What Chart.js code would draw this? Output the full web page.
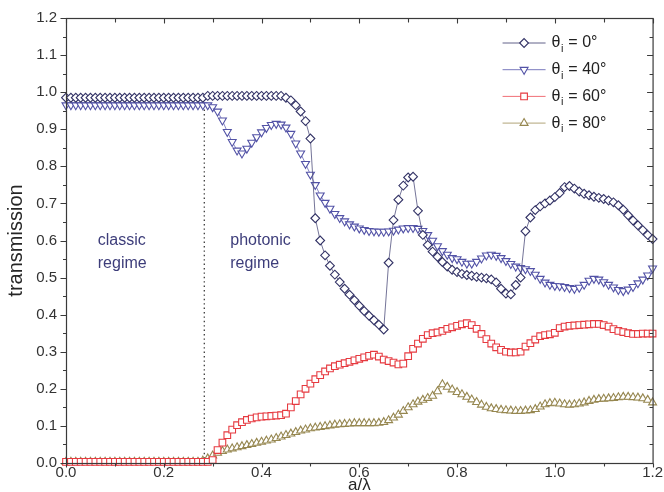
<!DOCTYPE html>
<html>
<head>
<meta charset="utf-8">
<title>transmission vs a/λ</title>
<script src="https://cdn.jsdelivr.net/npm/chart.js@4.4.0/dist/chart.umd.min.js"></script>
<style>
  html, body { margin: 0; padding: 0; background: #fff; }
  #wrap { width: 664px; height: 492px; }
</style>
</head>
<body>
<div id="wrap"><canvas id="chart" width="664" height="492"></canvas></div>
<script>
// Data (a/λ step 0.01)
const aLambda = [
  0.00, 0.01, 0.02, 0.03, 0.04, 0.05, 0.06, 0.07, 0.08, 0.09,
  0.10, 0.11, 0.12, 0.13, 0.14, 0.15, 0.16, 0.17, 0.18, 0.19,
  0.20, 0.21, 0.22, 0.23, 0.24, 0.25, 0.26, 0.27, 0.28, 0.29,
  0.30, 0.31, 0.32, 0.33, 0.34, 0.35, 0.36, 0.37, 0.38, 0.39,
  0.40, 0.41, 0.42, 0.43, 0.44, 0.45, 0.46, 0.47, 0.48, 0.49,
  0.50, 0.51, 0.52, 0.53, 0.54, 0.55, 0.56, 0.57, 0.58, 0.59,
  0.60, 0.61, 0.62, 0.63, 0.64, 0.65, 0.66, 0.67, 0.68, 0.69,
  0.70, 0.71, 0.72, 0.73, 0.74, 0.75, 0.76, 0.77, 0.78, 0.79,
  0.80, 0.81, 0.82, 0.83, 0.84, 0.85, 0.86, 0.87, 0.88, 0.89,
  0.90, 0.91, 0.92, 0.93, 0.94, 0.95, 0.96, 0.97, 0.98, 0.99,
  1.00, 1.01, 1.02, 1.03, 1.04, 1.05, 1.06, 1.07, 1.08, 1.09,
  1.10, 1.11, 1.12, 1.13, 1.14, 1.15, 1.16, 1.17, 1.18, 1.19,
  1.20
];

const theta0 = [
  0.985, 0.985, 0.985, 0.985, 0.985, 0.985, 0.985, 0.985, 0.985, 0.985,
  0.985, 0.985, 0.985, 0.985, 0.985, 0.985, 0.985, 0.985, 0.985, 0.985,
  0.985, 0.985, 0.985, 0.985, 0.985, 0.985, 0.985, 0.985, 0.985, 0.99,
  0.99, 0.99, 0.99, 0.99, 0.99, 0.99, 0.99, 0.99, 0.99, 0.99,
  0.99, 0.99, 0.99, 0.99, 0.99, 0.985, 0.978, 0.965, 0.948, 0.922,
  0.875, 0.66, 0.60, 0.56, 0.532, 0.508, 0.488, 0.47, 0.454, 0.439,
  0.424, 0.41, 0.397, 0.385, 0.373, 0.36, 0.54, 0.655, 0.71, 0.748,
  0.77, 0.772, 0.68, 0.615, 0.588, 0.57, 0.556, 0.542, 0.53, 0.521,
  0.515, 0.51, 0.507, 0.505, 0.502, 0.50, 0.498, 0.495, 0.487, 0.47,
  0.457, 0.455, 0.48, 0.50, 0.625, 0.662, 0.682, 0.692, 0.70, 0.708,
  0.717, 0.728, 0.744, 0.747, 0.74, 0.732, 0.726, 0.722, 0.718, 0.715,
  0.712, 0.708, 0.703, 0.695, 0.683, 0.668, 0.654, 0.641, 0.628, 0.615,
  0.604
];

const theta40 = [
  0.965, 0.965, 0.965, 0.965, 0.965, 0.965, 0.965, 0.965, 0.965, 0.965,
  0.965, 0.965, 0.965, 0.965, 0.965, 0.965, 0.965, 0.965, 0.965, 0.965,
  0.965, 0.965, 0.965, 0.965, 0.965, 0.965, 0.965, 0.965, 0.965, 0.965,
  0.96, 0.948, 0.924, 0.893, 0.866, 0.843, 0.835, 0.848, 0.864, 0.879,
  0.892, 0.904, 0.912, 0.915, 0.913, 0.905, 0.888, 0.862, 0.835, 0.807,
  0.778, 0.75, 0.722, 0.702, 0.686, 0.672, 0.661, 0.652, 0.644, 0.638,
  0.633, 0.629, 0.626, 0.625, 0.624, 0.624, 0.625, 0.627, 0.63, 0.633,
  0.634, 0.634, 0.632, 0.626, 0.615, 0.60, 0.585, 0.572, 0.562, 0.553,
  0.55, 0.543, 0.538, 0.538, 0.543, 0.552, 0.56, 0.562, 0.559, 0.553,
  0.545, 0.537, 0.53, 0.526, 0.523, 0.518, 0.508, 0.497, 0.487, 0.481,
  0.478, 0.477, 0.475, 0.472, 0.47, 0.473, 0.481, 0.492, 0.497, 0.495,
  0.488, 0.481, 0.474, 0.467, 0.464, 0.468, 0.475, 0.485, 0.495, 0.506,
  0.525
];

const theta60 = [
  0.003, 0.003, 0.003, 0.003, 0.003, 0.003, 0.003, 0.003, 0.003, 0.003,
  0.003, 0.003, 0.003, 0.003, 0.003, 0.003, 0.003, 0.003, 0.003, 0.003,
  0.003, 0.003, 0.003, 0.003, 0.003, 0.003, 0.003, 0.003, 0.003, 0.003,
  0.008, 0.035, 0.055, 0.075, 0.09, 0.102, 0.11, 0.116, 0.12, 0.123,
  0.125, 0.126, 0.127, 0.128, 0.129, 0.133, 0.15, 0.167, 0.185, 0.20,
  0.214, 0.226, 0.237, 0.247, 0.255, 0.261, 0.265, 0.269, 0.273, 0.277,
  0.281, 0.285, 0.289, 0.292, 0.287, 0.279, 0.275, 0.271, 0.266, 0.268,
  0.288, 0.308, 0.322, 0.335, 0.345, 0.35, 0.352, 0.356, 0.362, 0.366,
  0.37, 0.374, 0.377, 0.372, 0.362, 0.348, 0.334, 0.322, 0.312, 0.305,
  0.30, 0.298, 0.298, 0.30, 0.314, 0.323, 0.333, 0.342, 0.345, 0.347,
  0.351, 0.364, 0.368, 0.37, 0.371, 0.372, 0.373, 0.374, 0.375, 0.375,
  0.372, 0.368, 0.361, 0.356, 0.353, 0.35, 0.348, 0.348, 0.349, 0.349,
  0.349
];

const theta80 = [
  0.003, 0.003, 0.003, 0.003, 0.003, 0.003, 0.003, 0.003, 0.003, 0.003,
  0.003, 0.003, 0.003, 0.003, 0.003, 0.003, 0.003, 0.003, 0.003, 0.003,
  0.003, 0.003, 0.003, 0.003, 0.003, 0.003, 0.003, 0.003, 0.006, 0.012,
  0.02, 0.027, 0.032, 0.036, 0.039, 0.042, 0.045, 0.048, 0.051, 0.054,
  0.057, 0.06, 0.063, 0.067, 0.071, 0.075, 0.079, 0.083, 0.087, 0.09,
  0.093, 0.095, 0.097, 0.099, 0.101, 0.103, 0.104, 0.105, 0.106, 0.107,
  0.107, 0.107, 0.107, 0.107, 0.108, 0.11, 0.115, 0.122, 0.13, 0.14,
  0.15, 0.158, 0.165, 0.17, 0.175, 0.181, 0.193, 0.212, 0.205, 0.198,
  0.191, 0.185, 0.178, 0.171, 0.164, 0.157, 0.151, 0.147, 0.145, 0.143,
  0.142, 0.141, 0.14, 0.14, 0.141, 0.142, 0.145, 0.152, 0.158, 0.161,
  0.162, 0.16, 0.158, 0.157, 0.158, 0.16, 0.163, 0.167, 0.17, 0.172,
  0.173, 0.174, 0.175, 0.177, 0.178, 0.178, 0.177, 0.176, 0.174, 0.17,
  0.163
];

// incidence angles (legend) and regime boundary
const angles = [0, 40, 60, 80];
const boundaryX = [0.283, 0.283];
const boundaryY = [0, 0.965];

// Styles
const fontFamily = '"Liberation Sans", Arial, sans-serif';
const axisColor = '#3a3a3a';
const noteColor = '#3d3d7a';
const seriesStyle = [
  { marker: '#333366', line: '#50507e', pointStyle: 'rectRot', rotation: 0, radius: 4.4 },
  { marker: '#5252a6', line: '#6a6ab6', pointStyle: 'triangle', rotation: 180, radius: 4.6 },
  { marker: '#e63a40', line: '#ee6066', pointStyle: 'rect', rotation: 0, radius: 4.7 },
  { marker: '#968750', line: '#a89a6a', pointStyle: 'triangle', rotation: 0, radius: 4.6 }
];
const regionNotes = [
  { lines: ['classic', 'regime'], x: 0.065, y: 0.60 },
  { lines: ['photonic', 'regime'], x: 0.336, y: 0.60 }
];

// Build datasets
function toPoints(values) {
  return aLambda.map((x, i) => ({ x: x, y: values[i] }));
}

const seriesValues = [theta0, theta40, theta60, theta80];
const datasets = seriesValues.map((values, i) => {
  const s = seriesStyle[i];
  return {
    label: 'θi = ' + angles[i] + '°',
    data: toPoints(values),
    borderColor: s.line,
    borderWidth: 0.8,
    pointStyle: s.pointStyle,
    pointRotation: s.rotation,
    pointRadius: s.radius,
    pointBorderColor: s.marker,
    pointBorderWidth: 1.1,
    pointBackgroundColor: '#ffffff',
    tension: 0,
    clip: 8
  };
});

// dotted line between the classic and photonic regimes
datasets.push({
  label: '',
  data: boundaryX.map((x, i) => ({ x: x, y: boundaryY[i] })),
  borderColor: '#444',
  borderWidth: 1.4,
  borderDash: [1.4, 3],
  pointRadius: 0,
  legendHidden: true
});

// Frame, ticks, titles, notes and legend
const decorations = {
  id: 'decorations',
  afterDraw(chart) {
    const ctx = chart.ctx;
    const area = chart.chartArea;
    const xs = chart.scales.x;
    const ys = chart.scales.y;
    ctx.save();

    // box
    ctx.strokeStyle = axisColor;
    ctx.lineWidth = 1.2;
    ctx.strokeRect(area.left + 0.5, area.top + 0.5, area.right - area.left, area.bottom - area.top);

    // ticks x : out at the bottom, in at the top
    ctx.lineWidth = 1.1;
    xs.ticks.forEach(t => {
      const px = Math.round(xs.getPixelForValue(t.value)) + 0.5;
      const major = Math.round(t.value * 10) % 2 === 0;
      const len = major ? 4 : 3;
      ctx.beginPath();
      ctx.moveTo(px, area.bottom + 0.5);
      ctx.lineTo(px, area.bottom + 0.5 + len);
      ctx.moveTo(px, area.top + 0.5);
      ctx.lineTo(px, area.top + 0.5 + len + 1);
      ctx.stroke();
    });
    // ticks y : out on the left, in on the right
    ys.ticks.forEach(t => {
      const py = Math.round(ys.getPixelForValue(t.value)) + 0.5;
      const major = Math.round(t.value * 100) % 10 === 0;
      const len = major ? 6 : 3.5;
      ctx.beginPath();
      ctx.moveTo(area.left + 0.5, py);
      ctx.lineTo(area.left + 0.5 - len, py);
      ctx.moveTo(area.right + 0.5, py);
      ctx.lineTo(area.right + 0.5 - len, py);
      ctx.stroke();
    });

    // axis titles
    ctx.fillStyle = '#262626';
    ctx.textAlign = 'center';
    ctx.textBaseline = 'alphabetic';
    ctx.font = '17px ' + fontFamily;
    ctx.fillText('a/λ', (area.left + area.right) / 2, 490);
    ctx.textBaseline = 'middle';
    ctx.font = '20px ' + fontFamily;
    ctx.save();
    ctx.translate(16, (area.top + area.bottom) / 2);
    ctx.rotate(-Math.PI / 2);
    ctx.fillText('transmission', 0, 0);
    ctx.restore();

    // regime notes
    ctx.fillStyle = noteColor;
    ctx.textAlign = 'left';
    ctx.font = '16px ' + fontFamily;
    regionNotes.forEach(n => {
      const px = xs.getPixelForValue(n.x);
      const py = ys.getPixelForValue(n.y);
      n.lines.forEach((txt, k) => ctx.fillText(txt, px, py + k * 23));
    });

    // legend
    const lx0 = area.right - 150;
    const lx1 = area.right - 107;
    const mx = (lx0 + lx1) / 2;
    const tx = area.right - 101;
    chart.data.datasets.forEach((ds, i) => {
      if (ds.legendHidden) return;
      const s = seriesStyle[i];
      const ly = area.top + 25 + i * 26.7;
      ctx.strokeStyle = s.line;
      ctx.lineWidth = 0.9;
      ctx.setLineDash([]);
      ctx.beginPath();
      ctx.moveTo(lx0, ly);
      ctx.lineTo(lx1, ly);
      ctx.stroke();
      ctx.strokeStyle = s.marker;
      ctx.fillStyle = '#ffffff';
      ctx.lineWidth = 1.1;
      Chart.helpers.drawPoint(ctx, {
        pointStyle: s.pointStyle, radius: s.radius, rotation: s.rotation, borderWidth: 1.1
      }, mx, ly);

      ctx.fillStyle = '#222';
      ctx.textAlign = 'left';
      ctx.textBaseline = 'middle';
      ctx.font = '16px ' + fontFamily;
      let x = tx;
      ctx.fillText('θ', x, ly);
      x += ctx.measureText('θ').width;
      ctx.font = '11px ' + fontFamily;
      ctx.fillText('i', x + 0.5, ly + 6);
      x += ctx.measureText('i').width + 1;
      ctx.font = '16px ' + fontFamily;
      ctx.fillText(' = ' + angles[i] + '°', x, ly);
    });

    ctx.restore();
  }
};

// Chart
const chart = new Chart(document.getElementById('chart'), {
  type: 'line',
  data: { datasets: datasets },
  options: {
    responsive: false,
    animation: false,
    devicePixelRatio: 1,
    layout: { padding: { top: 10, right: 9, left: 0, bottom: 0 } },
    plugins: {
      legend: { display: false },
      tooltip: { enabled: false }
    },
    scales: {
      x: {
        type: 'linear',
        min: 0,
        max: 1.2,
        grid: { display: false, drawTicks: false },
        border: { display: false },
        ticks: {
          stepSize: 0.1,
          autoSkip: false,
          maxRotation: 0,
          padding: 1,
          color: '#333',
          font: { family: fontFamily, size: 15 },
          callback: v => (Math.round(v * 10) % 2 === 0 ? v.toFixed(1) : '')
        },
        afterFit: scale => { scale.height = 29; }
      },
      y: {
        min: 0,
        max: 1.2,
        grid: { display: false, drawTicks: false },
        border: { display: false },
        ticks: {
          stepSize: 0.05,
          autoSkip: false,
          padding: 9,
          color: '#333',
          font: { family: fontFamily, size: 15 },
          callback: v => (Math.round(v * 100) % 10 === 0 ? v.toFixed(1) : '')
        },
        afterFit: scale => { scale.width = 66; }
      }
    }
  },
  plugins: [decorations]
});
</script>
</body>
</html>
